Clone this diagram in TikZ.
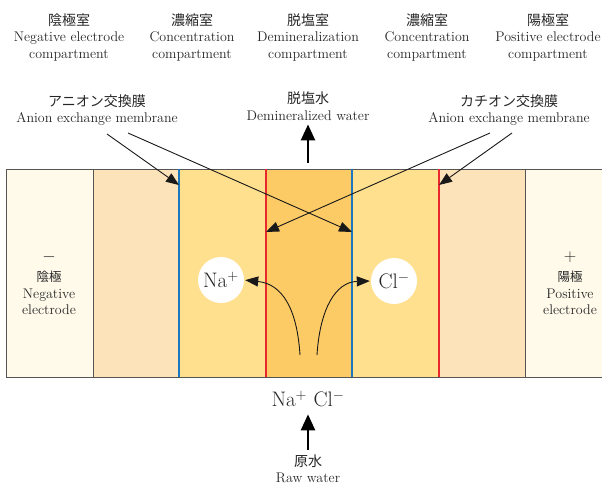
\documentclass[tikz,border=0pt]{standalone}
\usepackage{fontspec}
\newfontfamily\jp{Noto Sans CJK JP}
\usetikzlibrary{arrows.meta,positioning}
\definecolor{electrode}{HTML}{FFFAEA}
\definecolor{outer}{HTML}{FDE3B9}
\definecolor{conc}{HTML}{FEE08F}
\definecolor{demin}{HTML}{FDCB66}
\definecolor{anion}{HTML}{1B78BE}
\definecolor{cation}{HTML}{E8282E}
\definecolor{frame}{HTML}{555555}
\definecolor{ink}{HTML}{262626}

\begin{document}
\begin{tikzpicture}[
  x=1pt,y=-1pt,
  caption/.style={
    align=center,
    text=ink,
    inner sep=0pt,
    font=\fontsize{14}{16.5}\selectfont
  },
  ion/.style={
    circle,
    fill=white,
    minimum size=46pt,
    inner sep=0pt,
    text=ink,
    font=\fontsize{21}{24}\selectfont
  },
  pointer/.style={
    black!90,
    line width=.9pt,
    -{Triangle[length=13pt,width=10pt]}
  },
  flow/.style={
    black,
    line width=2.4pt,
    -{Triangle[length=16pt,width=14pt]}
  },
  membrane/.style={line width=1.7pt}
]
\useasboundingbox (0,0) rectangle (602,487);
\clip (0,0) rectangle (602,487);

% cell compartments
\fill[electrode] (6,169)   rectangle (93,377);
\fill[outer]     (93,169)  rectangle (179,377);
\fill[conc]      (179,169) rectangle (266,377);
\fill[demin]     (266,169) rectangle (352,377);
\fill[conc]      (352,169) rectangle (439,377);
\fill[outer]     (439,169) rectangle (525,377);
\fill[electrode] (525,169) rectangle (620,377);

\draw[frame,line width=1pt] (620,169) -- (6,169) -- (6,377) -- (620,377);
\draw[frame,line width=1pt] (93,169) -- (93,377);
\draw[frame,line width=1pt] (525,169) -- (525,377);

% membranes
\draw[membrane,anion]  (179,169) -- (179,377);
\draw[membrane,cation] (266,169) -- (266,377);
\draw[membrane,anion]  (352,169) -- (352,377);
\draw[membrane,cation] (439,169) -- (439,377);

% compartment titles
\node[caption] (negroom) at (69,37)
  {{\jp 陰極室}\\Negative electrode\\compartment};
\node[caption] (conc1) at (192,37)
  {{\jp 濃縮室}\\Concentration\\compartment};
\node[caption] (demroom) at (308,37)
  {{\jp 脱塩室}\\Demineralization\\compartment};
\node[caption] (conc2) at (427,37)
  {{\jp 濃縮室}\\Concentration\\compartment};
\node[caption] (posroom) at (548,37)
  {{\jp 陽極室}\\Positive electrode\\compartment};

% membrane labels
\node[caption] (alabel) at (97,110)
  {{\jp アニオン交換膜}\\Anion exchange membrane};
\node[caption] (clabel) at (509,110)
  {{\jp カチオン交換膜}\\Anion exchange membrane};
\node[caption] (dwater) at (308,106)
  {{\jp 脱塩水}\\Demineralized water};

\coordinate (a1) at (107,134);
\coordinate (a2) at (128,133);
\coordinate (c1) at (490,133);
\coordinate (c2) at (512,133);
\coordinate (am1) at (179,185);
\coordinate (am2) at (352,232);
\coordinate (cm1) at (266,232);
\coordinate (cm2) at (439,185);

\draw[pointer] (a1) -- (am1);
\draw[pointer] (a2) -- (am2);
\draw[pointer] (c1) -- (cm1);
\draw[pointer] (c2) -- (cm2);

\coordinate (outlet) at (308,163);
\draw[flow] (outlet) -- ([yshift=-4pt]dwater.south);

% electrodes
\node[caption] (neg) at (49,283)
  {\fontsize{16}{20}\selectfont$-$\\[4pt]{\jp\fontsize{12.5}{16}\selectfont 陰極}\\Negative\\electrode};
\node[caption] (pos) at (570,283)
  {\fontsize{16}{20}\selectfont$+$\\[4pt]{\jp\fontsize{12.5}{16}\selectfont 陽極}\\Positive\\electrode};

% ions
\node[ion] (na) at (221,280) {Na$^+$};
\node[ion] (cl) at (394,281) {Cl$^-$};

\coordinate (s1) at (300,355);
\coordinate (s2) at (317,355);
\draw[pointer,shorten >=1pt] (s1) .. controls (297,308) and (282,284) .. (na.east);
\draw[pointer,shorten >=1pt] (s2) .. controls (320,308) and (336,282) .. (cl.west);

% raw water inlet
\node[caption,font=\fontsize{21}{24}\selectfont] (nacl) at (308,399)
  {Na$^+$ Cl$^-$};
\node[caption] (raw) at (308,469)
  {{\jp 原水}\\Raw water};
\draw[flow] ([yshift=5pt]raw.north) -- ([yshift=-7pt]nacl.south);

\end{tikzpicture}
\end{document}
